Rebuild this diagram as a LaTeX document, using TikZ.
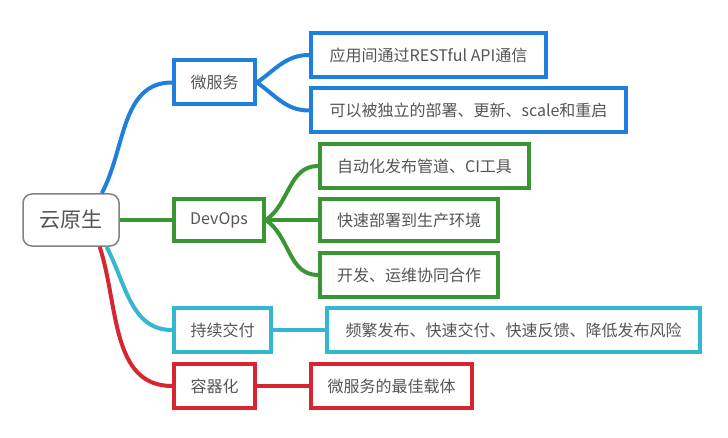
\documentclass[tikz,border=0pt]{standalone}
\usepackage{fontspec}
\setmainfont{Noto Sans CJK SC}
\usepackage{tikz}
\usetikzlibrary{positioning}
\definecolor{msblue}{RGB}{30,128,220}
\definecolor{opsgreen}{RGB}{58,150,52}
\definecolor{cdcyan}{RGB}{52,184,208}
\definecolor{ctred}{RGB}{215,38,48}
\definecolor{txtgray}{RGB}{85,85,85}
\definecolor{hubgray}{RGB}{130,130,130}

\begin{document}
\begin{tikzpicture}[
  x=1pt, y=1pt,
  font=\fontsize{16}{19}\selectfont,
  hub/.style={draw=hubgray, line width=1.5pt, rounded corners=9pt, fill=white,
              minimum width=96pt, minimum height=52pt, text=txtgray,
              font=\fontsize{21}{24}\selectfont},
  box/.style={draw, line width=4pt, minimum height=44pt, inner sep=6pt,
              fill=white, text=txtgray},
  link/.style={line width=4pt},
]
\useasboundingbox (0,0) rectangle (728,437);

% ===================== root =====================
\node[hub] (cloud) at (71,217) {云原生};

% ===================== first level =====================
\node[box, draw=msblue,   minimum width=81pt] (micro)  at (214.5,354.5) {微服务};
\node[box, draw=opsgreen, minimum width=90pt, minimum height=42pt] (devops) at (219,217) {DevOps};
\node[box, draw=cdcyan,   minimum width=97pt] (cd)     at (222.5,107) {持续交付};
\node[box, draw=ctred,    minimum width=81pt] (ctr)    at (214.5,51) {容器化};

% ===================== leaves =====================
\node[box, draw=msblue, minimum width=235pt] (rest)   at (428.5,382)   {应用间通过RESTful API通信};
\node[box, draw=msblue, minimum width=315pt] (deploy) at (468.5,326.5) {可以被独立的部署、更新、scale和重启};

\node[box, draw=opsgreen, minimum width=209pt] (pipe) at (424.5,271) {自动化发布管道、CI工具};
\node[box, draw=opsgreen, minimum width=178pt, minimum height=42pt] (prod) at (409,217) {快速部署到生产环境};
\node[box, draw=opsgreen, minimum width=178pt] (coop) at (409,162) {开发、运维协同合作};

\node[box, draw=cdcyan, minimum width=373pt] (freq) at (513.5,107) {频繁发布、快速交付、快速反馈、降低发布风险};

\node[box, draw=ctred, minimum width=161pt] (carrier) at (391.5,51) {微服务的最佳载体};

% root -> first level
\draw[link, msblue]   (cloud.41)  to[out=62, in=180]  (micro.west);
\draw[link, opsgreen] (cloud.east) -- (devops.west);
\draw[link, cdcyan]   (cloud.-37) to[out=-62, in=180] (cd.west);
\draw[link, ctred]    (cloud.-43) to[out=-72, in=180] (ctr.west);

% first level -> leaves
\draw[link, msblue]   (micro.east)  to[out=35, in=180]  (rest.west);
\draw[link, msblue]   (micro.east)  to[out=-35, in=180] (deploy.west);
\draw[link, opsgreen] (devops.east) to[out=35, in=180]  (pipe.west);
\draw[link, opsgreen] (devops.east) -- (prod.west);
\draw[link, opsgreen] (devops.east) to[out=-35, in=180] (coop.west);
\draw[link, cdcyan]   (cd.east)  -- (freq.west);
\draw[link, ctred]    (ctr.east) -- (carrier.west);

\end{tikzpicture}
\end{document}
